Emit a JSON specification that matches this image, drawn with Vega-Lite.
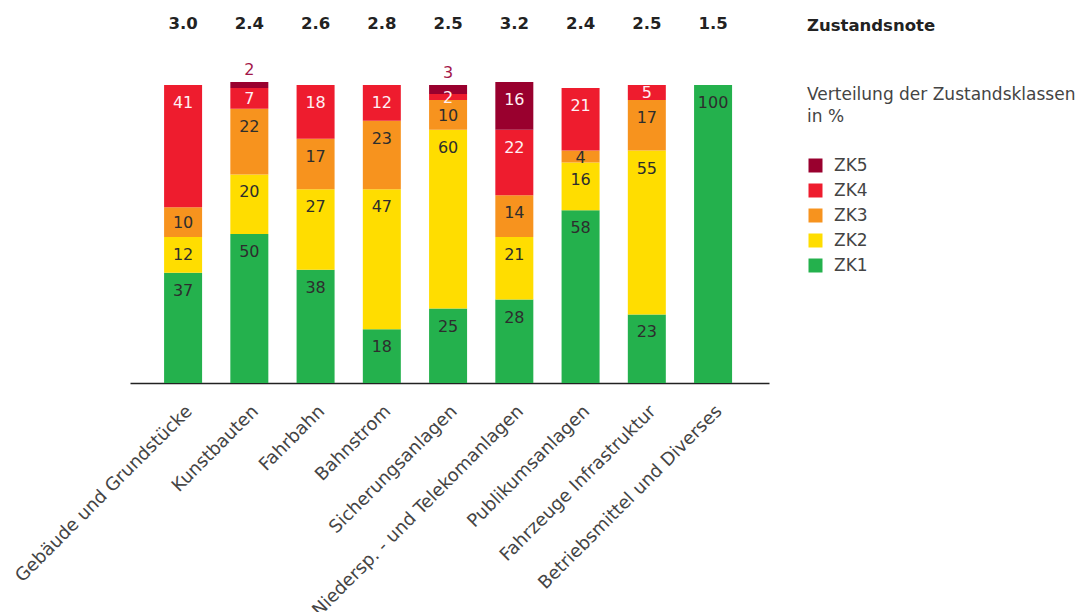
{
  "$schema": "https://vega.github.io/schema/vega-lite/v6.json",
  "width": 639,
  "height": 298,
  "autosize": {"type": "none"},
  "padding": {"left": 130, "top": 85, "right": 311, "bottom": 229},
  "background": "white",
  "config": {"view": {"stroke": null}, "font": "DejaVu Sans"},
  "title": {
    "text": "Zustandsnote",
    "anchor": "start",
    "frame": "group",
    "dx": 677,
    "offset": -32,
    "baseline": "alphabetic",
    "align": "left",
    "fontSize": 16.5,
    "fontWeight": "bold",
    "color": "#222222",
    "font": "DejaVu Sans"
  },
  "datasets": {
    "zustand": [
      {"kategorie": "Gebäude und Grundstücke", "zk": "ZK1", "value": 37},
      {"kategorie": "Gebäude und Grundstücke", "zk": "ZK2", "value": 12},
      {"kategorie": "Gebäude und Grundstücke", "zk": "ZK3", "value": 10},
      {"kategorie": "Gebäude und Grundstücke", "zk": "ZK4", "value": 41},
      {"kategorie": "Kunstbauten", "zk": "ZK1", "value": 50},
      {"kategorie": "Kunstbauten", "zk": "ZK2", "value": 20},
      {"kategorie": "Kunstbauten", "zk": "ZK3", "value": 22},
      {"kategorie": "Kunstbauten", "zk": "ZK4", "value": 7},
      {"kategorie": "Kunstbauten", "zk": "ZK5", "value": 2},
      {"kategorie": "Fahrbahn", "zk": "ZK1", "value": 38},
      {"kategorie": "Fahrbahn", "zk": "ZK2", "value": 27},
      {"kategorie": "Fahrbahn", "zk": "ZK3", "value": 17},
      {"kategorie": "Fahrbahn", "zk": "ZK4", "value": 18},
      {"kategorie": "Bahnstrom", "zk": "ZK1", "value": 18},
      {"kategorie": "Bahnstrom", "zk": "ZK2", "value": 47},
      {"kategorie": "Bahnstrom", "zk": "ZK3", "value": 23},
      {"kategorie": "Bahnstrom", "zk": "ZK4", "value": 12},
      {"kategorie": "Sicherungsanlagen", "zk": "ZK1", "value": 25},
      {"kategorie": "Sicherungsanlagen", "zk": "ZK2", "value": 60},
      {"kategorie": "Sicherungsanlagen", "zk": "ZK3", "value": 10},
      {"kategorie": "Sicherungsanlagen", "zk": "ZK4", "value": 2},
      {"kategorie": "Sicherungsanlagen", "zk": "ZK5", "value": 3},
      {"kategorie": "Niedersp. - und Telekomanlagen", "zk": "ZK1", "value": 28},
      {"kategorie": "Niedersp. - und Telekomanlagen", "zk": "ZK2", "value": 21},
      {"kategorie": "Niedersp. - und Telekomanlagen", "zk": "ZK3", "value": 14},
      {"kategorie": "Niedersp. - und Telekomanlagen", "zk": "ZK4", "value": 22},
      {"kategorie": "Niedersp. - und Telekomanlagen", "zk": "ZK5", "value": 16},
      {"kategorie": "Publikumsanlagen", "zk": "ZK1", "value": 58},
      {"kategorie": "Publikumsanlagen", "zk": "ZK2", "value": 16},
      {"kategorie": "Publikumsanlagen", "zk": "ZK3", "value": 4},
      {"kategorie": "Publikumsanlagen", "zk": "ZK4", "value": 21},
      {"kategorie": "Fahrzeuge Infrastruktur", "zk": "ZK1", "value": 23},
      {"kategorie": "Fahrzeuge Infrastruktur", "zk": "ZK2", "value": 55},
      {"kategorie": "Fahrzeuge Infrastruktur", "zk": "ZK3", "value": 17},
      {"kategorie": "Fahrzeuge Infrastruktur", "zk": "ZK4", "value": 5},
      {"kategorie": "Betriebsmittel und Diverses", "zk": "ZK1", "value": 100}
    ],
    "noten": [
      {"kategorie": "Gebäude und Grundstücke", "note": 3.0},
      {"kategorie": "Kunstbauten", "note": 2.4},
      {"kategorie": "Fahrbahn", "note": 2.6},
      {"kategorie": "Bahnstrom", "note": 2.8},
      {"kategorie": "Sicherungsanlagen", "note": 2.5},
      {"kategorie": "Niedersp. - und Telekomanlagen", "note": 3.2},
      {"kategorie": "Publikumsanlagen", "note": 2.4},
      {"kategorie": "Fahrzeuge Infrastruktur", "note": 2.5},
      {"kategorie": "Betriebsmittel und Diverses", "note": 1.5}
    ]
  },
  "encoding": {
    "x": {
      "field": "kategorie",
      "type": "nominal",
      "sort": null,
      "scale": {"paddingInner": 0.4264, "paddingOuter": 0.536, "align": 0.48},
      "axis": {
        "title": null,
        "labelAngle": -45,
        "labelFontSize": 18,
        "labelFont": "DejaVu Sans",
        "labelColor": "#444444",
        "labelLimit": 400,
        "labelPadding": 19,
        "ticks": false,
        "domainColor": "#222222",
        "domainWidth": 1.5
      }
    }
  },
  "layer": [
    {
      "data": {"name": "zustand"},
      "mark": {"type": "bar"},
      "encoding": {
        "y": {
          "field": "value",
          "type": "quantitative",
          "stack": "zero",
          "scale": {"domain": [0, 100], "nice": false, "zero": true},
          "axis": null
        },
        "color": {
          "field": "zk",
          "type": "nominal",
          "scale": {
            "domain": ["ZK5", "ZK4", "ZK3", "ZK2", "ZK1"],
            "range": ["#99002e", "#ee1c2e", "#f7931e", "#ffdd00", "#24b14d"]
          },
          "legend": {
            "orient": "none",
            "legendX": 677,
            "legendY": 2,
            "padding": 0,
            "title": ["Verteilung der Zustandsklassen", "in %"],
            "titleFont": "DejaVu Sans",
            "titleFontSize": 17,
            "titleFontWeight": "normal",
            "titleColor": "#444444",
            "titleLineHeight": 22,
            "titlePadding": 31,
            "titleLimit": 400,
            "labelFont": "DejaVu Sans",
            "labelFontSize": 17,
            "labelColor": "#444444",
            "labelOffset": 10,
            "symbolType": "square",
            "symbolSize": 196,
            "symbolStrokeWidth": 0,
            "symbolOpacity": 1,
            "rowPadding": 7
          }
        },
        "order": {"field": "zk", "sort": "ascending"}
      }
    },
    {
      "data": {"name": "zustand"},
      "mark": {"type": "text", "baseline": "middle", "dy": 18, "fontSize": 16, "font": "DejaVu Sans"},
      "encoding": {
        "y": {"field": "value", "type": "quantitative", "stack": "zero"},
        "detail": {"field": "zk"},
        "order": {"field": "zk", "sort": "ascending"},
        "text": {"condition": {"test": "datum.value >= 12", "field": "value", "type": "quantitative"}, "value": ""},
        "color": {"condition": {"test": "datum.zk == 'ZK4' || datum.zk == 'ZK5'", "value": "#fff0f4"}, "value": "#2d2d2d"}
      }
    },
    {
      "data": {"name": "zustand"},
      "mark": {"type": "text", "baseline": "middle", "dy": 1, "fontSize": 16, "font": "DejaVu Sans"},
      "encoding": {
        "y": {"field": "value", "type": "quantitative", "stack": "zero", "bandPosition": 0.5},
        "detail": {"field": "zk"},
        "order": {"field": "zk", "sort": "ascending"},
        "text": {"condition": {"test": "datum.value < 12 && !(datum.zk == 'ZK5' && datum.value < 5)", "field": "value", "type": "quantitative"}, "value": ""},
        "color": {"condition": {"test": "datum.zk == 'ZK4' || datum.zk == 'ZK5'", "value": "#fff0f4"}, "value": "#2d2d2d"}
      }
    },
    {
      "data": {"name": "zustand"},
      "mark": {"type": "text", "baseline": "middle", "dy": -12, "fontSize": 16, "font": "DejaVu Sans", "color": "#a3174a"},
      "encoding": {
        "y": {"field": "value", "type": "quantitative", "stack": "zero"},
        "detail": {"field": "zk"},
        "order": {"field": "zk", "sort": "ascending"},
        "text": {"condition": {"test": "datum.zk == 'ZK5' && datum.value < 5", "field": "value", "type": "quantitative"}, "value": ""}
      }
    },
    {
      "data": {"name": "noten"},
      "mark": {"type": "text", "baseline": "alphabetic", "fontSize": 16.5, "fontWeight": "bold", "font": "DejaVu Sans", "color": "#222222"},
      "encoding": {
        "y": {"datum": 118.8, "type": "quantitative"},
        "text": {"field": "note", "type": "quantitative", "format": ".1f"}
      }
    }
  ]
}
